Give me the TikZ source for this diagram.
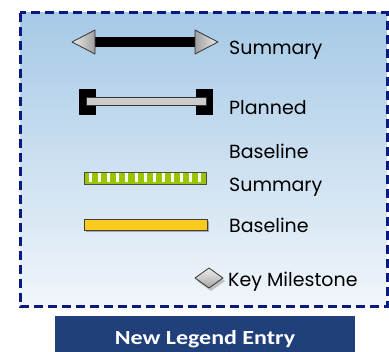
\documentclass[tikz,border=0pt]{standalone}
\usepackage{fontspec}
\setmainfont{Poppins}
\newfontfamily\btnfont{Carlito}
\usepackage{xcolor}
\usepackage{tikz}
\usetikzlibrary{shapes.geometric}
\usetikzlibrary{positioning}
\definecolor{navydash}{HTML}{0A1A80}
\definecolor{skytop}{HTML}{A6C9E6}
\definecolor{skybottom}{HTML}{F1F6FB}
\definecolor{btnblue}{HTML}{203F7B}
\definecolor{limebar}{HTML}{99C400}
\definecolor{goldbar}{HTML}{FACB1E}
\tikzstyle{legendlabel} = [anchor=base west, inner sep=0pt, font=\fontsize{19}{21}\selectfont, text=black]
\tikzstyle{headtip} = [draw=black!80, line width=0.8pt, line join=round]
\tikzstyle{capblock} = [fill=black, draw=black]

\begin{document}
\begin{tikzpicture}[x=1pt, y=-1pt]
    \useasboundingbox (0,0) rectangle (389,352);

    % legend frame
    \path[top color=skytop, bottom color=skybottom] (20,13) rectangle (387,307);
    \draw[navydash, line width=3pt, dash pattern=on 9pt off 5pt] (20,13) rectangle (387,307);

    % summary
    \fill[black] (92,37) rectangle (198,47);
    \draw[headtip, left color=gray!15, right color=gray!75] (72,42) -- (95,30) -- (95,54) -- cycle;
    \draw[headtip, left color=gray!75, right color=gray!15] (218,42) -- (195,30) -- (195,54) -- cycle;
    \node (sumlbl) [legendlabel] at (229,55) {Summary};

    % planned
    \draw[capblock] (79,89) rectangle (95,114);
    \draw[capblock] (196,89) rectangle (212,114);
    \draw[fill=gray!40, draw=black!80, line width=0.8pt] (86,97) rectangle (206,105);
    \node (planlbl) [legendlabel] at (229,115) {Planned};

    % baseline summary
    \draw[fill=limebar, draw=black!70, line width=0.8pt] (84,172) rectangle (206,184);
    \foreach \i in {0,...,12}
        \fill[white] ({89+\i*9.1},173.5) rectangle ++(3,9);
    \node (bslbl) [legendlabel] at (229,159) {Baseline};
    \node (bsumlbl) [legendlabel] at (229,192) {Summary};

    % baseline
    \fill[black!35] (86,221) rectangle (209,232);
    \draw[fill=goldbar, draw=black!75, line width=0.8pt] (84,219) rectangle (207,230);
    \node (baselbl) [legendlabel] at (229,233) {Baseline};

    % key milestone
    \fill[black!25] (211,271) -- (225,281) -- (211,291) -- (197,281) -- cycle;
    \draw[headtip, top color=gray!15, bottom color=gray!70] (209,268) -- (223,278) -- (209,288) -- (195,278) -- cycle;
    \node (keylbl) [legendlabel] at (228,287) {Key Milestone};

    % new entry button
    \node (newentry) [fill=btnblue, minimum width=300pt, minimum height=36pt, inner sep=0pt,
                      text height=22pt, text depth=0pt,
                      text=white, font=\btnfont\bfseries\fontsize{20}{22}\selectfont] at (205,334)
                      {\scalebox{1.2}[1]{New Legend Entry}};
\end{tikzpicture}
\end{document}
